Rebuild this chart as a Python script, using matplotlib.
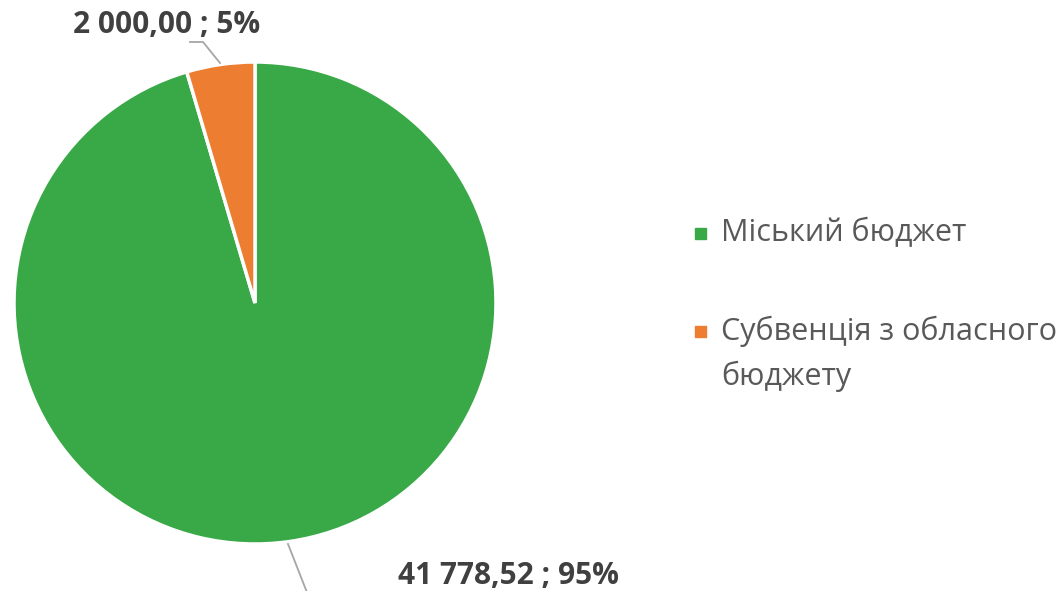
import matplotlib.pyplot as plt
from matplotlib.patches import Rectangle

plt.rcParams['font.family'] = ['Open Sans', 'DejaVu Sans']

categories = ['Міський бюджет', 'Субвенція з обласного\nбюджету']
values = [41778.52, 2000.00]
value_labels = ['41 778,52 ; 95%', '2 000,00 ; 5%']
colors = ['#39A947', '#ED7D31']
text_color = '#595959'

W, H = 1059, 591
fig = plt.figure(figsize=(W / 100, H / 100), dpi=100)

# pie area: centre (255, 303) px, radius 241 px
cx, cy, r = 255, 303, 241
ax = fig.add_axes([(cx - r) / W, (H - cy - r) / H, 2 * r / W, 2 * r / H])
ax.pie(values, colors=colors, startangle=90, counterclock=False, radius=1,
       wedgeprops=dict(edgecolor='white', linewidth=2.5))
ax.set_xlim(-1, 1)
ax.set_ylim(-1, 1)
ax.set_aspect('equal')
ax.axis('off')


def px(x, y):
    return ((x - cx) / r, (cy - y) / r)


# data labels with leader lines
lx, ly = zip(*[px(220, 63), px(203, 42), px(190, 42)])
ax.plot(lx, ly, color='#A6A6A6', lw=1.3, clip_on=False)
lx, ly = zip(*[px(288, 544), px(308, 595)])
ax.plot(lx, ly, color='#A6A6A6', lw=1.3, clip_on=False)

ax.text(*px(167, 25), value_labels[1], ha='center', va='center', fontsize=21.5,
        fontweight='bold', color='#404040')
ax.text(*px(508, 576), value_labels[0], ha='center', va='center', fontsize=21.5,
        fontweight='bold', color='#404040')

# legend
leg_y = [233, 331]
for cat, col, y in zip(categories, colors, leg_y):
    fig.patches.append(Rectangle((695 / W, (H - y - 6) / H), 11 / W, 11 / H,
                                 transform=fig.transFigure, color=col))
    for i, line in enumerate(cat.split('\n')):
        fig.text(721 / W, (H - y - 45 * i) / H, line, ha='left', va='center',
                 fontsize=22, color=text_color)

fig.savefig('out.png', dpi=100)
